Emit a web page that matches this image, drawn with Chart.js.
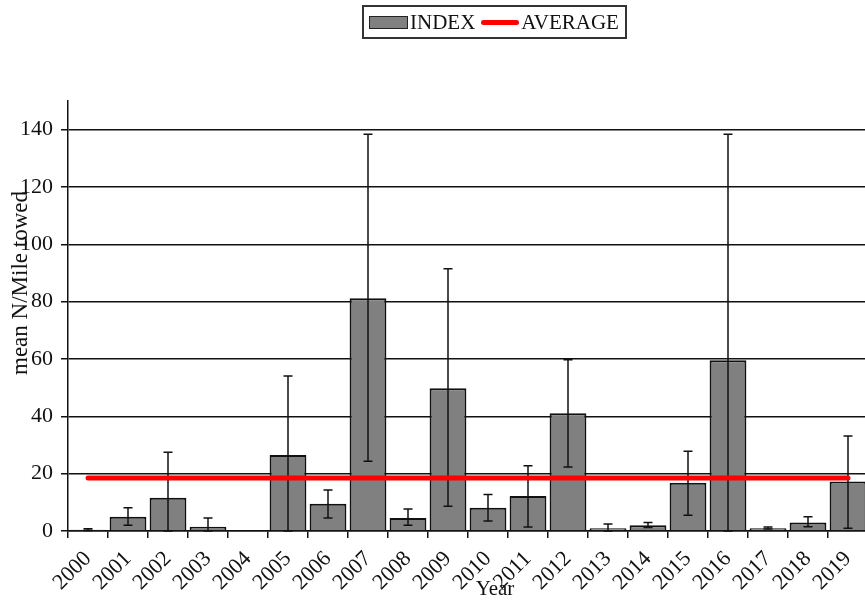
<!DOCTYPE html>
<html lang="en">
<head>
    <meta charset="UTF-8">
    <script src="https://cdn.jsdelivr.net/npm/chart.js"></script>
    <style>
        body {
            margin: 0;
            padding: 0;
            overflow: hidden;
            background: white;
            font-family: "Liberation Serif", serif;
        }

        #wrap {
            position: relative;
            width: 865px;
            height: 603px;
            overflow: hidden;
        }

        #chartBox {
            position: absolute;
            left: 0;
            top: 0;
            width: 868px;
            height: 603px;
        }

        .legend {
            position: absolute;
            left: 362px;
            top: 5px;
            width: 261px;
            height: 30px;
            border: 2px solid #333;
            display: flex;
            align-items: center;
            font-size: 21px;
            color: #111;
        }

        .swatch-bar {
            width: 37px;
            height: 11px;
            background: #808080;
            border: 1.5px solid #222;
            margin-left: 5px;
            margin-right: 2px;
        }

        .swatch-line {
            width: 38px;
            height: 5px;
            border-radius: 3px;
            background: #ff0000;
            margin-left: 6px;
            margin-right: 2px;
        }

        .ytitle {
            position: absolute;
            left: 20px;
            top: 283px;
            transform: translate(-50%, -50%) rotate(-90deg);
            white-space: nowrap;
            font-size: 23px;
            color: #111;
        }

        .xtitle {
            position: absolute;
            left: 495px;
            top: 588px;
            transform: translate(-50%, -50%);
            font-size: 21px;
            color: #111;
        }
    </style>
    <title>Index by year</title>
</head>
<body>
    <div id="wrap">
        <div id="chartBox"><canvas id="indexChart"></canvas></div>
        <div class="legend">
            <span class="swatch-bar"></span><span>INDEX</span>
            <span class="swatch-line"></span><span>AVERAGE</span>
        </div>
        <div class="ytitle">mean N/Mile towed</div>
        <div class="xtitle">Year</div>
    </div>
    <script>
        const years = ["2000", "2001", "2002", "2003", "2004", "2005", "2006", "2007", "2008", "2009",
            "2010", "2011", "2012", "2013", "2014", "2015", "2016", "2017", "2018", "2019"];
        const indexValues = [0.4, 5.0, 11.6, 1.5, 0, 26.5, 9.5, 81.2, 4.5, 49.8,
            8.1, 12.2, 41.1, 1.0, 2.0, 16.8, 59.6, 1.0, 3.0, 17.3];
        const errorLow = [0.2, 2.0, 0, 0, null, 0, 4.5, 24.3, 2.0, 8.6,
            3.5, 1.4, 22.3, 0, 1.2, 5.5, 0, 0.7, 1.5, 1.0];
        const errorHigh = [0.8, 8.1, 27.5, 4.5, null, 54.1, 14.3, 138.4, 7.7, 91.5,
            12.7, 22.8, 59.7, 2.4, 3.0, 27.8, 138.4, 1.4, 5.0, 33.1];
        const averageValues = [18.5, 18.5, 18.5, 18.5, 18.5, 18.5, 18.5, 18.5, 18.5, 18.5,
            18.5, 18.5, 18.5, 18.5, 18.5, 18.5, 18.5, 18.5, 18.5, 18.5];
        const yTickMax = 140;

        // whiskers drawn right after the bars, so the red line stays on top
        const errorBars = {
            id: "errorBars",
            afterDatasetDraw(chart, args) {
                if (args.index !== 0) return;
                const ctx = chart.ctx;
                const yScale = chart.scales.y;
                const meta = chart.getDatasetMeta(0);
                ctx.save();
                ctx.strokeStyle = "#111";
                ctx.lineWidth = 1.5;
                meta.data.forEach((bar, i) => {
                    if (errorLow[i] === null || errorHigh[i] === null) return;
                    const x = bar.x;
                    const yLow = yScale.getPixelForValue(errorLow[i]);
                    const yHigh = yScale.getPixelForValue(errorHigh[i]);
                    ctx.beginPath();
                    ctx.moveTo(x, yLow);
                    ctx.lineTo(x, yHigh);
                    ctx.moveTo(x - 4.5, yHigh);
                    ctx.lineTo(x + 4.5, yHigh);
                    ctx.moveTo(x - 4.5, yLow);
                    ctx.lineTo(x + 4.5, yLow);
                    ctx.stroke();
                });
                ctx.restore();
            }
        };

        new Chart(document.getElementById("indexChart"), {
            type: "bar",
            data: {
                labels: years,
                datasets: [{
                    label: "INDEX",
                    data: indexValues,
                    backgroundColor: "#808080",
                    borderColor: "#111",
                    borderWidth: 2,
                    barPercentage: 0.92,
                    categoryPercentage: 1.0,
                    order: 1
                }, {
                    type: "line",
                    label: "AVERAGE",
                    data: averageValues,
                    borderColor: "#ff0000",
                    borderWidth: 5,
                    borderCapStyle: "round",
                    pointRadius: 0,
                    fill: false,
                    order: 0
                }]
            },
            options: {
                responsive: true,
                maintainAspectRatio: false,
                animation: false,
                layout: {
                    padding: { top: 101, right: 0, bottom: 0, left: 0 }
                },
                plugins: {
                    legend: { display: false },
                    tooltip: { enabled: false }
                },
                scales: {
                    x: {
                        grid: {
                            offset: true,
                            drawOnChartArea: false,
                            color: "#111",
                            lineWidth: 1.5,
                            tickLength: 7
                        },
                        border: { color: "#111", width: 1.5 },
                        ticks: {
                            autoSkip: false,
                            maxRotation: 45,
                            minRotation: 45,
                            padding: 8,
                            color: "#111",
                            font: { family: "Liberation Serif", size: 22 }
                        },
                        afterFit(scale) {
                            scale.height = 72;
                            scale.paddingLeft = 0;
                            scale.paddingRight = 0;
                        }
                    },
                    y: {
                        min: 0,
                        max: 150,
                        grid: {
                            color: "#111",
                            lineWidth: 1.5,
                            tickLength: 7
                        },
                        border: { color: "#111", width: 1.5 },
                        ticks: {
                            stepSize: 20,
                            padding: 8,
                            color: "#111",
                            font: { family: "Liberation Serif", size: 22 }
                        },
                        afterBuildTicks(scale) {
                            scale.ticks = scale.ticks.filter(t => t.value <= yTickMax);
                        },
                        afterFit(scale) {
                            scale.width = 68;
                        }
                    }
                }
            },
            plugins: [errorBars]
        });
    </script>
</body>
</html>
